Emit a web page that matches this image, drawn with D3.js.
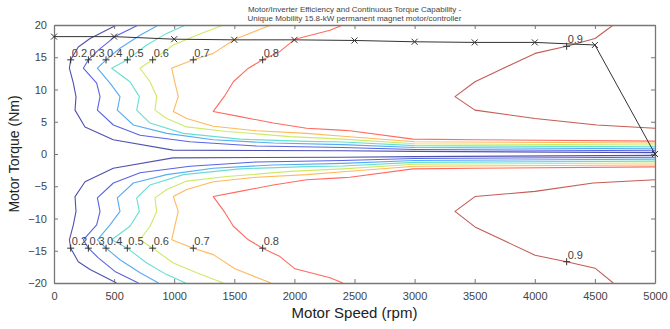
<!DOCTYPE html>
<html>
<head>
<meta charset="utf-8">
<script src="https://cdn.jsdelivr.net/npm/d3@7"></script>
<style>
body { margin: 0; background: #fff; }
text { font-family: "Liberation Sans", Arial, sans-serif; }
.axis .domain, .axis line { stroke: #777; }
.axis text { fill: #444; font-size: 11px; }
</style>
</head>
<body>
<svg id="chart" width="670" height="329"></svg>
<script>
let speedTicks = [0, 500, 1000, 1500, 2000, 2500, 3000, 3500, 4000, 4500, 5000];
let torqueTicks = [-20, -15, -10, -5, 0, 5, 10, 15, 20];
let levels = ['0.2', '0.3', '0.4', '0.5', '0.6', '0.7', '0.8', '0.9'];

// efficiency contours, [rpm, Nm]
let eff20Upper = [[521, 20], [300, 17.9], [202, 16.6], [139, 14.6], [128, 13.3], [161, 11.0], [183, 8.9], [175, 6.8], [258, 4.2], [493, 2.2], [990, 0.6], [1700, 0.55], [2400, 0.5], [3000, 0.4], [5000, 0.22]];
let eff20Lower = [[5000, -0.22], [3000, -0.4], [2400, -0.5], [1700, -0.55], [990, -0.6], [493, -2.2], [258, -4.3], [175, -6.6], [183, -8.9], [161, -11.0], [128, -13.3], [139, -14.6], [202, -16.7], [300, -17.9], [521, -20]];
let eff30Upper = [[702, 20], [507, 18.2], [369, 16.1], [286, 14.6], [244, 13.3], [355, 11.0], [383, 8.9], [361, 6.8], [494, 4.5], [716, 2.9], [1131, 1.9], [1686, 1.24], [2400, 1.0], [3000, 0.7], [5000, 0.5]];
let eff30Lower = [[5000, -0.5], [3000, -0.7], [2400, -1.0], [1686, -1.24], [1131, -1.9], [716, -2.9], [494, -4.5], [361, -6.8], [383, -8.9], [355, -11.0], [244, -13.3], [286, -14.6], [369, -16.1], [507, -18.2], [702, -20]];
let eff40Upper = [[870, 20], [716, 18.4], [549, 16.4], [433, 14.6], [361, 13.3], [466, 11.0], [549, 8.9], [527, 6.8], [660, 4.5], [938, 3.2], [1325, 2.2], [1824, 1.7], [2400, 1.45], [3000, 1.0], [5000, 0.8]];
let eff40Lower = [[5000, -0.8], [3000, -1.0], [2400, -1.45], [1824, -1.7], [1325, -2.2], [938, -3.2], [660, -4.5], [527, -6.8], [549, -8.9], [466, -11.0], [361, -13.3], [433, -14.6], [549, -16.4], [716, -18.4], [870, -20]];
let eff50Upper = [[1095, 20], [938, 18.7], [771, 16.9], [610, 14.6], [480, 13.3], [632, 11.2], [710, 8.9], [688, 6.8], [799, 4.8], [1076, 3.2], [1547, 2.3], [2102, 1.95], [2400, 1.85], [3000, 1.3], [5000, 1.1]];
let eff50Lower = [[5000, -1.1], [3000, -1.3], [2400, -1.85], [2102, -1.95], [1547, -2.3], [1076, -3.2], [799, -4.8], [688, -6.8], [710, -8.9], [632, -11.2], [480, -13.3], [610, -14.6], [771, -16.9], [938, -18.7], [1095, -20]];
let eff60Upper = [[1409, 20], [1187, 18.4], [993, 16.9], [821, 14.6], [715, 13.3], [799, 11.2], [854, 8.9], [840, 6.8], [938, 5.5], [1104, 4.2], [1437, 3.5], [1963, 2.7], [2400, 2.3], [3000, 1.6], [5000, 1.4]];
let eff60Lower = [[5000, -1.4], [3000, -1.6], [2400, -2.3], [1963, -2.7], [1437, -3.5], [1104, -4.2], [938, -5.5], [840, -6.8], [854, -8.9], [799, -11.2], [715, -13.3], [821, -14.6], [993, -16.9], [1187, -18.4], [1409, -20]];
let eff70Upper = [[1805, 20], [1506, 17.8], [1325, 15.6], [1159, 14.6], [979, 13.3], [1007, 11.0], [1034, 8.9], [993, 6.6], [1104, 5.5], [1325, 4.3], [1686, 3.6], [2102, 3.2], [2379, 2.8], [3000, 1.9], [5000, 1.7]];
let eff70Lower = [[5000, -1.7], [3000, -1.9], [2379, -2.8], [2102, -3.2], [1686, -3.6], [1325, -4.3], [1104, -5.5], [993, -6.6], [1034, -8.9], [1007, -11.0], [979, -13.3], [1159, -14.6], [1325, -15.6], [1506, -17.8], [1805, -20]];
let eff80Upper = [[2404, 20], [2296, 19.2], [2005, 17.8], [1880, 15.9], [1736, 14.6], [1617, 13.3], [1492, 11.2], [1423, 9.1], [1325, 6.6], [1547, 5.8], [1824, 4.8], [2102, 4.0], [2379, 3.7], [2462, 3.6], [2987, 2.3], [3500, 2.2], [5000, 2.0]];
let eff80Lower = [[5000, -2.0], [3500, -2.2], [2987, -2.3], [2462, -3.6], [2379, -3.7], [2102, -4.0], [1824, -4.8], [1547, -5.8], [1325, -6.6], [1423, -9.1], [1492, -11.2], [1617, -13.3], [1736, -14.6], [1880, -15.9], [2005, -17.8], [2296, -19.2], [2404, -20]];
let eff90Upper = [[4653, 20], [4501, 17.9], [4265, 16.7], [4002, 15.6], [3502, 11.2], [3336, 8.9], [3502, 6.8], [4002, 5.5], [4515, 4.5], [5000, 4.0]];
let eff90Lower = [[5000, -4.0], [4486, -4.5], [4002, -5.8], [3502, -6.6], [3336, -8.9], [3502, -11.3], [4002, -15.7], [4265, -16.7], [4501, -17.7], [4653, -20]];

let contourLines = [
    [eff20Upper, eff20Lower], [eff30Upper, eff30Lower], [eff40Upper, eff40Lower], [eff50Upper, eff50Lower],
    [eff60Upper, eff60Lower], [eff70Upper, eff70Lower], [eff80Upper, eff80Lower], [eff90Upper, eff90Lower]
];

// contour label anchors (the "+" marks)
let labelSpeed = [139, 286, 433, 610, 821, 1159, 1736, 4265];
let labelTorqueUpper = [14.6, 14.6, 14.6, 14.6, 14.6, 14.6, 14.6, 16.7];
let labelTorqueLower = [-14.6, -14.6, -14.6, -14.6, -14.6, -14.6, -14.6, -16.7];

// continuous torque capability
let capSpeed = [0, 500, 1000, 1500, 2000, 2500, 3000, 3500, 4000, 4500, 5000];
let capTorque = [18.2, 18.2, 17.8, 17.7, 17.7, 17.6, 17.4, 17.3, 17.3, 16.9, 0];

let colors = ['#3d3da8', '#4552e0', '#45a2f2', '#55dccd', '#c6e855', '#ffb04a', '#ff5a4c', '#bc4a42'];

let plotLeft = 54, plotRight = 655, plotTop = 25, plotBottom = 283;

let svg = d3.select('#chart');

let x = d3.scaleLinear().domain([0, 5000]).range([plotLeft, plotRight]);
let y = d3.scaleLinear().domain([-20, 20]).range([plotBottom, plotTop]);

svg.append('defs').append('clipPath').attr('id', 'plot')
    .append('rect').attr('x', plotLeft).attr('y', plotTop)
    .attr('width', plotRight - plotLeft).attr('height', plotBottom - plotTop);

let line = d3.line().x(d => x(d[0])).y(d => y(d[1]));

let plot = svg.append('g').attr('clip-path', 'url(#plot)');

contourLines.forEach((halves, i) => {
    halves.forEach(pts => {
        plot.append('path').datum(pts)
            .attr('fill', 'none')
            .attr('stroke', colors[i])
            .attr('stroke-width', 1.1)
            .attr('stroke-opacity', 0.9)
            .attr('stroke-linejoin', 'round')
            .attr('d', line);
    });
});

// axes, MATLAB style: box with inward ticks
svg.append('g').attr('class', 'axis')
    .attr('transform', 'translate(0,' + plotBottom + ')')
    .call(d3.axisBottom(x).tickValues(speedTicks).tickSize(-4).tickSizeOuter(0).tickPadding(9).tickFormat(d => d));
svg.append('g').attr('class', 'axis')
    .attr('transform', 'translate(0,' + plotTop + ')')
    .call(d3.axisTop(x).tickValues(speedTicks).tickSize(-4).tickSizeOuter(0).tickFormat(''));
svg.append('g').attr('class', 'axis')
    .attr('transform', 'translate(' + plotLeft + ',0)')
    .call(d3.axisLeft(y).tickValues(torqueTicks).tickSize(-4).tickSizeOuter(0).tickPadding(7));
svg.append('g').attr('class', 'axis')
    .attr('transform', 'translate(' + plotRight + ',0)')
    .call(d3.axisRight(y).tickValues(torqueTicks).tickSize(-4).tickSizeOuter(0).tickFormat(''));
svg.selectAll('.axis .domain').attr('stroke-width', 1.3);

// torque capability curve with x markers
let cap = capSpeed.map((s, i) => [s, capTorque[i]]);
svg.append('path').datum(cap)
    .attr('fill', 'none').attr('stroke', '#333').attr('stroke-width', 1)
    .attr('d', line);
svg.selectAll('.xmark').data(cap).enter()
    .append('path').attr('class', 'xmark')
    .attr('transform', d => 'translate(' + x(d[0]) + ',' + y(d[1]) + ')')
    .attr('d', 'M-3,-3L3,3M-3,3L3,-3')
    .attr('stroke', '#333').attr('stroke-width', 1);

// contour labels
let labels = [];
levels.forEach((lv, i) => {
    labels.push({ text: lv, s: labelSpeed[i], t: labelTorqueUpper[i] });
    labels.push({ text: lv, s: labelSpeed[i], t: labelTorqueLower[i] });
});
let lab = svg.selectAll('.clabel').data(labels).enter().append('g').attr('class', 'clabel')
    .attr('transform', d => 'translate(' + x(d.s) + ',' + y(d.t) + ')');
lab.append('path').attr('d', 'M-3.5,0H3.5M0,-3.5V3.5').attr('stroke', '#333').attr('stroke-width', 1);
lab.append('text').attr('x', 1).attr('y', -3)
    .attr('font-size', 11).attr('fill', '#444').text(d => d.text);

// titles
svg.append('text').attr('x', (plotLeft + plotRight) / 2).attr('y', 12)
    .attr('text-anchor', 'middle').attr('font-size', 8).attr('fill', '#444')
    .text('Motor/Inverter Efficiency and Continuous Torque Capability -');
svg.append('text').attr('x', (plotLeft + plotRight) / 2).attr('y', 21)
    .attr('text-anchor', 'middle').attr('font-size', 8).attr('fill', '#444')
    .text('Unique Mobility 15.8-kW permanent magnet motor/controller');

svg.append('text').attr('x', (plotLeft + plotRight) / 2).attr('y', 318)
    .attr('text-anchor', 'middle').attr('font-size', 15).attr('fill', '#222')
    .text('Motor Speed (rpm)');
svg.append('text').attr('transform', 'translate(19,' + ((plotTop + plotBottom) / 2) + ') rotate(-90)')
    .attr('text-anchor', 'middle').attr('font-size', 14).attr('fill', '#222')
    .text('Motor Torque (Nm)');
</script>
</body>
</html>
